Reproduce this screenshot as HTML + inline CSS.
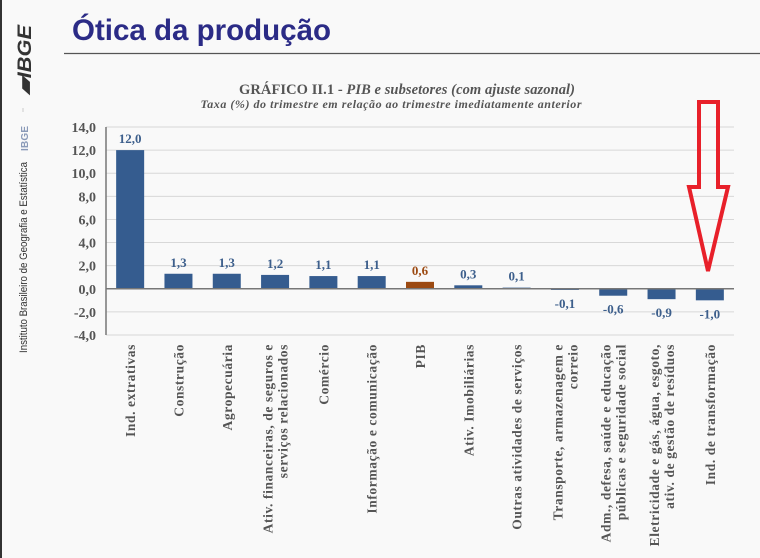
<!DOCTYPE html>
<html><head><meta charset="utf-8"><style>
body{margin:0;width:760px;height:558px;background:#f9f9f9;overflow:hidden;position:relative;font-family:"Liberation Sans",sans-serif}
</style></head><body>
<div style="position:absolute;left:0;top:0;width:2px;height:558px;background:#333"></div>
<svg width="760" height="558" style="position:absolute;left:0;top:0">
<g><text transform="translate(31,95) rotate(-90)" font-family="Liberation Sans" font-weight="bold" font-style="italic" font-size="19" fill="#333" textLength="70" lengthAdjust="spacingAndGlyphs">▰IBGE</text></g>
<line x1="23" y1="108" x2="23" y2="112" stroke="#ccc"/>
<text transform="translate(28,151) rotate(-90)" font-size="10" fill="#8a9ab8" font-weight="bold" textLength="25">IBGE</text>
<text transform="translate(27,353) rotate(-90)" font-size="11" fill="#333" textLength="191" lengthAdjust="spacingAndGlyphs">Instituto Brasileiro de Geografia e Estatística</text>
<text x="72" y="40" font-size="29.5" font-weight="bold" fill="#2b2b86">Ótica da produção</text>
<line x1="64" y1="53.5" x2="760" y2="53.5" stroke="#555" stroke-width="1.3"/>
<text x="407" y="94" text-anchor="middle" font-family="Liberation Serif" font-size="14.5" font-weight="bold" fill="#555" textLength="336">GRÁFICO II.1 - <tspan font-style="italic">PIB  e subsetores (com ajuste sazonal)</tspan></text>
<text x="391" y="108" text-anchor="middle" font-family="Liberation Serif" font-style="italic" font-weight="bold" font-size="12" fill="#555" textLength="381">Taxa (%) do trimestre em relação ao trimestre imediatamente anterior</text>
<g id="chart"></g>
<polygon points="699,102 718,102 718,187 728,187 708,271 689,187 699,187" fill="none" stroke="#e8202a" stroke-width="4" stroke-linejoin="miter"/>
</svg>
<script>
const categories=[["Ind. extrativas"],["Construção"],["Agropecuária"],["Ativ. financeiras, de seguros e","serviços relacionados"],["Comércio"],["Informação e comunicação"],["PIB"],["Ativ. Imobiliárias"],["Outras atividades de serviços"],["Transporte, armazenagem e","correio"],["Adm., defesa, saúde e educação","públicas e seguridade social"],["Eletricidade e gás, água, esgoto,","ativ. de gestão de resíduos"],["Ind. de transformação"]];
const values=[12.0,1.3,1.3,1.2,1.1,1.1,0.6,0.3,0.1,-0.1,-0.6,-0.9,-1.0];
const valueLabels=["12,0","1,3","1,3","1,2","1,1","1,1","0,6","0,3","0,1","-0,1","-0,6","-0,9","-1,0"];
const yTicks=[14,12,10,8,6,4,2,0,-2,-4];
const yTickLabels=["14,0","12,0","10,0","8,0","6,0","4,0","2,0","0,0","-2,0","-4,0"];
const highlight="PIB";
const NS="http://www.w3.org/2000/svg";
const g=document.getElementById('chart');
const x0=106,x1=734,yTop=127,yBot=335,vMax=14,vMin=-4;
const y=v=>yTop+(vMax-v)/(vMax-vMin)*(yBot-yTop);
const step=(x1-x0)/categories.length;
const xc=i=>x0+step*(i+0.5);
function mk(t,a){const e=document.createElementNS(NS,t);for(const k in a)e.setAttribute(k,a[k]);g.appendChild(e);return e;}
yTicks.forEach((t,i)=>{
  if(t!==0){const l=mk('line',{x1:x0,x2:x1,y1:y(t),y2:y(t),stroke:'#d8d8d8','stroke-width':1});
  
  }
  const tx=mk('text',{x:x0-10,y:y(t)+5,'text-anchor':'end','font-family':'Liberation Serif','font-weight':'bold','font-size':14,fill:'#555'});
  tx.textContent=yTickLabels[i];
  
  
});
values.forEach((v,i)=>{
  const isH=categories[i][0]===highlight;
  const top=Math.min(y(v),y(0)),h=Math.abs(y(v)-y(0));
  const r=mk('rect',{x:xc(i)-14,y:top,width:28,height:h,fill:isH?'#9c4a12':'#355c8f'});
  
  
  const ly=v>=0?y(v)-7:y(0)+18+h;
  const t=mk('text',{x:xc(i),y:ly,'text-anchor':'middle','font-family':'Liberation Serif','font-weight':'bold','font-size':13,fill:isH?'#9c4a12':'#3d5f8c'});
  t.textContent=valueLabels[i];
  
  
  const lines=categories[i];
  lines.forEach((s,j)=>{
    const off=(j-(lines.length-1)/2)*15;
    const c=mk('text',{transform:`translate(${xc(i)+5+off},344) rotate(-90)`,'text-anchor':'end','font-family':'Liberation Serif','font-weight':'bold','font-size':13.5,'letter-spacing':0.6,fill:'#555'});
    c.textContent=s;
    
    
  });
});
const z=mk('line',{x1:x0,x2:x1,y1:y(0),y2:y(0),stroke:'#777','stroke-width':1.5});


const ax=mk('line',{x1:x0,x2:x0,y1:yTop,y2:yBot,stroke:'#777','stroke-width':1.5});


</script>
</body></html>
